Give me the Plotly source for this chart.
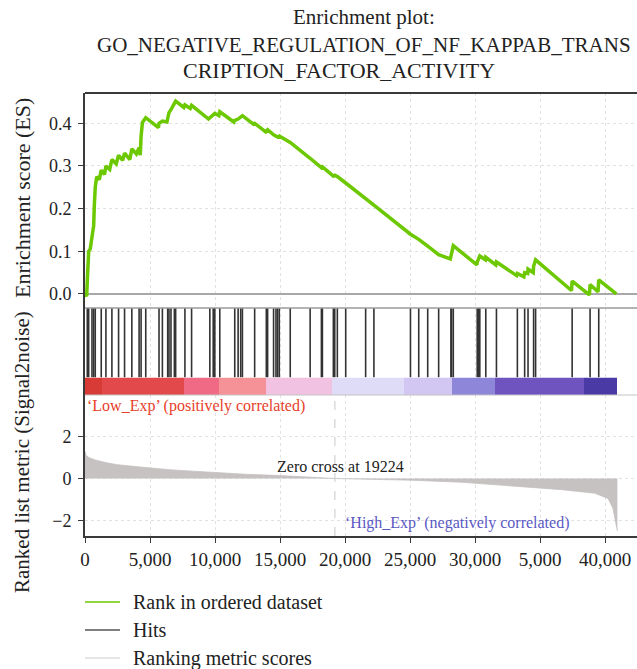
import plotly.graph_objects as go

# ---------------- data ----------------
es_rank = [0, 130, 176, 250, 284, 400, 536, 600, 667, 720, 789, 900, 1100, 1249, 1500, 1609,
           1900, 2069, 2400, 2582, 2900, 3042, 3450, 3602, 3950, 4161, 4250, 4314, 4420, 4674,
           5650, 5694, 5954, 6300, 6360, 6460, 6613, 6874, 6973, 7600, 7686, 8100, 8199, 9500,
           9602, 9862, 9985, 10300, 10368, 11450, 11518, 11778, 11978, 12108, 12950, 13050,
           13900, 13947, 14047, 14506, 14690, 14813, 14943, 15786, 17318, 18184, 18261, 19104,
           19211, 19410, 20054, 21587, 22223, 25035, 25671, 26361, 27204, 28100, 28147, 28200,
           28330, 30150, 30169, 30269, 30369, 30800, 30829, 31600, 31649, 33200, 33258, 33760,
           33818, 34050, 34078, 34480, 34507, 34660, 37420, 37472, 38800, 38851, 39460, 39517,
           40870]
es_value = [0.0, -0.005, 0.03, 0.07, 0.10, 0.105, 0.135, 0.135, 0.16, 0.21, 0.25, 0.275, 0.268,
            0.29, 0.28, 0.30, 0.292, 0.315, 0.305, 0.325, 0.313, 0.33, 0.315, 0.340, 0.328, 0.343,
            0.325, 0.37, 0.402, 0.413, 0.39, 0.40, 0.405, 0.403, 0.415, 0.425, 0.432, 0.445, 0.452,
            0.437, 0.443, 0.435, 0.442, 0.41, 0.413, 0.418, 0.423, 0.418, 0.427, 0.403, 0.407,
            0.41, 0.415, 0.418, 0.398, 0.40, 0.38, 0.383, 0.385, 0.373, 0.37, 0.368, 0.37, 0.355,
            0.318, 0.296, 0.298, 0.276, 0.278, 0.275, 0.26, 0.222, 0.208, 0.14, 0.128, 0.112,
            0.092, 0.082, 0.09, 0.098, 0.113, 0.068, 0.075, 0.082, 0.089, 0.08, 0.086, 0.068,
            0.075, 0.043, 0.048, 0.040, 0.05, 0.048, 0.058, 0.05, 0.065, 0.08, 0.008, 0.03,
            -0.002, 0.022, 0.005, 0.033, 0.0]

hit_rank = [176, 284, 536, 667, 789, 1249, 1609, 2069, 2582, 3042, 3602, 4161, 4314, 4674,
            5694, 5954, 6360, 6460, 6613, 6874, 6973, 7686, 8199, 9602, 9862, 9985, 10368,
            11518, 11778, 11978, 12108, 13050, 13947, 14047, 14506, 14690, 14813, 14943, 15786,
            17318, 18184, 18261, 19104, 19211, 19410, 20054, 21587, 22223, 25035, 25671, 26361,
            27204, 28147, 28200, 28330, 30169, 30269, 30369, 30829, 31649, 33258, 33818, 34078,
            34507, 34660, 37472, 38851, 39517]

metric_rank = [0, 100, 300, 800, 1660, 2500, 3700, 5000, 6500, 8300, 10000, 12400, 15000,
               17500, 19224, 22000, 25100, 29000, 32800, 36650, 39200, 40230, 40600, 40790,
               40900, 40950]
metric_value = [1.3, 1.1, 1.0, 0.88, 0.75, 0.66, 0.58, 0.5, 0.42, 0.35, 0.28, 0.2, 0.14,
                0.07, 0.0, -0.04, -0.08, -0.18, -0.35, -0.53, -0.7, -0.95, -1.4, -2.0,
                -2.5, -2.5]

bar_edges = [0, 1300, 7590, 10340, 13950, 19000, 24520, 28200, 31500, 38390, 40900]
bar_level = [0, 1, 2, 3, 4, 5, 6, 7, 8, 9]

zero_cross = 19224

x_ticks = [0, 5000, 10000, 15000, 20000, 25000, 30000, 35000, 40000]
x_tick_labels = ["0", "5,000", "10,000", "15,000", "20,000", "25,000", "30,000", "5,000", "40,000"]
es_ticks = [0.0, 0.1, 0.2, 0.3, 0.4]
es_tick_labels = ["0.0", "0.1", "0.2", "0.3", "0.4"]
metric_ticks = [-2, 0, 2]
metric_tick_labels = ["\u22122", "0", "2"]

title_lines = ["Enrichment plot:", "GO_NEGATIVE_REGULATION_OF_NF_KAPPAB_TRANS",
               "CRIPTION_FACTOR_ACTIVITY"]
legend_names = ["Rank in ordered dataset", "Hits", "Ranking metric scores"]

# ---------------- styles ----------------
FONT = "Liberation Serif, Times New Roman, serif"
GREEN = "#6cc800"
bar_colors = ["#d83a36", "#e2494a", "#f06a86", "#f59297", "#f2c2e2",
              "#dedcf6", "#d2c6f2", "#8e86d8", "#6f54c0", "#4a3aa6"]
AX = "#3a3a3a"
GRID = "#e2e2e2"

fig = go.Figure()

# ES curve
fig.add_trace(go.Scatter(x=es_rank, y=es_value, mode="lines", xaxis="x", yaxis="y",
                         line=dict(color=GREEN, width=3.5), showlegend=False,
                         name=legend_names[0]))

# hits
hx, hy = [], []
for h in hit_rank:
    hx += [h, h, None]
    hy += [0, 1, None]
fig.add_trace(go.Scatter(x=hx, y=hy, mode="lines", xaxis="x", yaxis="y2",
                         line=dict(color="#333333", width=1.6), showlegend=False,
                         name=legend_names[1]))

# colour bar
n = len(bar_colors)
cs = []
for i, c in enumerate(bar_colors):
    cs += [[i / n, c], [(i + 1) / n, c]]
fig.add_trace(go.Heatmap(x=bar_edges, y=[0, 1], z=[[v + 0.5 for v in bar_level]],
                         zmin=0, zmax=n, colorscale=cs, showscale=False,
                         xaxis="x", yaxis="y3", hoverinfo="skip"))

# ranked metric
fig.add_trace(go.Scatter(x=metric_rank, y=metric_value, mode="lines", fill="tozeroy",
                         xaxis="x", yaxis="y4", fillcolor="#c6c2c2",
                         line=dict(color="#c6c2c2", width=0.8), showlegend=False,
                         name=legend_names[2]))

# zero cross dashed line
fig.add_trace(go.Scatter(x=[zero_cross, zero_cross], y=[-2.74, 3.98], mode="lines",
                         xaxis="x", yaxis="y4", line=dict(color="#c8c8c8", width=1, dash="dash"),
                         showlegend=False, hoverinfo="skip"))

D_TOP = (536 - 308) / 443
D_HIT = (536 - 377.5) / 443
D_BAR = (536 - 395) / 443

tickfont_y = dict(family=FONT, size=18, color="#222")
fig.update_layout(
    width=637, height=669,
    margin=dict(l=85, r=0, t=93, b=133, autoexpand=False),
    paper_bgcolor="white", plot_bgcolor="white",
    showlegend=False,
    font=dict(family=FONT, color="#222"),
    xaxis=dict(range=[0, 42460], anchor="y4", tickvals=x_ticks, ticktext=x_tick_labels,
               tickfont=dict(family=FONT, size=19, color="#222"),
               showgrid=True, gridcolor=GRID, griddash="dot", gridwidth=1,
               showline=True, linecolor=AX, linewidth=2, ticks="outside", ticklen=5,
               tickcolor=AX, zeroline=False),
    yaxis=dict(domain=[D_TOP, 1], range=[-0.033, 0.471], tickvals=es_ticks,
               ticktext=es_tick_labels, tickfont=tickfont_y, ticklabelstandoff=3,
               showgrid=True, gridcolor=GRID, griddash="dot",
               zeroline=True, zerolinecolor="#a8a8a8", zerolinewidth=1.5,
               showline=True, linecolor=AX, linewidth=2, ticks="outside", ticklen=5,
               tickcolor=AX),
    yaxis2=dict(domain=[D_HIT, D_TOP], range=[0, 1], showticklabels=False, showgrid=False,
                zeroline=False, showline=True, linecolor=AX, linewidth=2),
    yaxis3=dict(domain=[D_BAR, D_HIT], range=[0, 1], showticklabels=False, showgrid=False,
                zeroline=False, showline=True, linecolor=AX, linewidth=2),
    yaxis4=dict(domain=[0, D_BAR], range=[-2.74, 3.98], tickvals=metric_ticks,
                ticktext=metric_tick_labels, tickfont=tickfont_y, ticklabelstandoff=3,
                showgrid=True, gridcolor=GRID, griddash="dot", zeroline=False,
                showline=True, linecolor=AX, linewidth=2, ticks="outside", ticklen=5,
                tickcolor=AX),
)

shapes = [
    dict(type="line", xref="paper", yref="paper", x0=0, x1=1, y0=1, y1=1,
         line=dict(color=AX, width=2)),
    dict(type="line", xref="paper", yref="paper", x0=0, x1=1, y0=D_TOP, y1=D_TOP,
         line=dict(color="#9a9a9a", width=1.5)),
    dict(type="line", xref="paper", yref="paper", x0=0, x1=1, y0=D_BAR, y1=D_BAR,
         line=dict(color="#c4c4c4", width=1)),
]

# manual legend
legend_colors = [GREEN, "#555555", "#dddddd"]
legend_y = [(536 - 602) / 443, (536 - 630) / 443, (536 - 658) / 443]
annotations = []
for name, col, yy in zip(legend_names, legend_colors, legend_y):
    shapes.append(dict(type="line", xref="paper", yref="paper", x0=0, x1=35 / 552,
                       y0=yy, y1=yy, line=dict(color=col, width=1.5)))
    annotations.append(dict(text=name, xref="paper", yref="paper", x=46 / 552, y=yy,
                            xanchor="left", yanchor="middle", showarrow=False,
                            font=dict(family=FONT, size=20, color="#222")))

# title
title_pos = [(364, 17, 21), (364, 45, 21), (339, 70, 22)]
for t, (cx, cy, fs) in zip(title_lines, title_pos):
    annotations.append(dict(text=t, xref="paper", yref="paper", x=(cx - 85) / 552,
                            y=(536 - cy) / 443, xanchor="center", yanchor="middle",
                            showarrow=False, font=dict(family=FONT, size=fs, color="#222")))

# axis titles
annotations.append(dict(text="Enrichment score (ES)", xref="paper", yref="paper",
                        x=(22 - 85) / 552, y=(536 - 198) / 443, textangle=-90,
                        xanchor="center", yanchor="middle", showarrow=False,
                        font=dict(family=FONT, size=22, color="#222")))
annotations.append(dict(text="Ranked list metric (Signal2noise)", xref="paper", yref="paper",
                        x=(22 - 85) / 552, y=(536 - 452) / 443, textangle=-90,
                        xanchor="center", yanchor="middle", showarrow=False,
                        font=dict(family=FONT, size=21, color="#222")))

# in-plot labels
annotations.append(dict(text="\u2018Low_Exp\u2019 (positively correlated)", xref="x", yref="y4",
                        x=0, y=3.45, xanchor="left", yanchor="middle", showarrow=False,
                        font=dict(family=FONT, size=16, color="#e8402a")))
annotations.append(dict(text="\u2018High_Exp\u2019 (negatively correlated)", xref="x", yref="y4",
                        x=19850, y=-2.12, xanchor="left", yanchor="middle", showarrow=False,
                        font=dict(family=FONT, size=16, color="#5a58c4")))
annotations.append(dict(text="Zero cross at " + str(zero_cross), xref="x", yref="y4",
                        x=zero_cross + 400, y=0.55, xanchor="center", yanchor="middle",
                        showarrow=False, font=dict(family=FONT, size=16, color="#222")))

fig.update_layout(shapes=shapes, annotations=annotations)
fig.write_html("out.html", config={"displayModeBar": False},
               post_script="document.body.style.margin='0px';")
